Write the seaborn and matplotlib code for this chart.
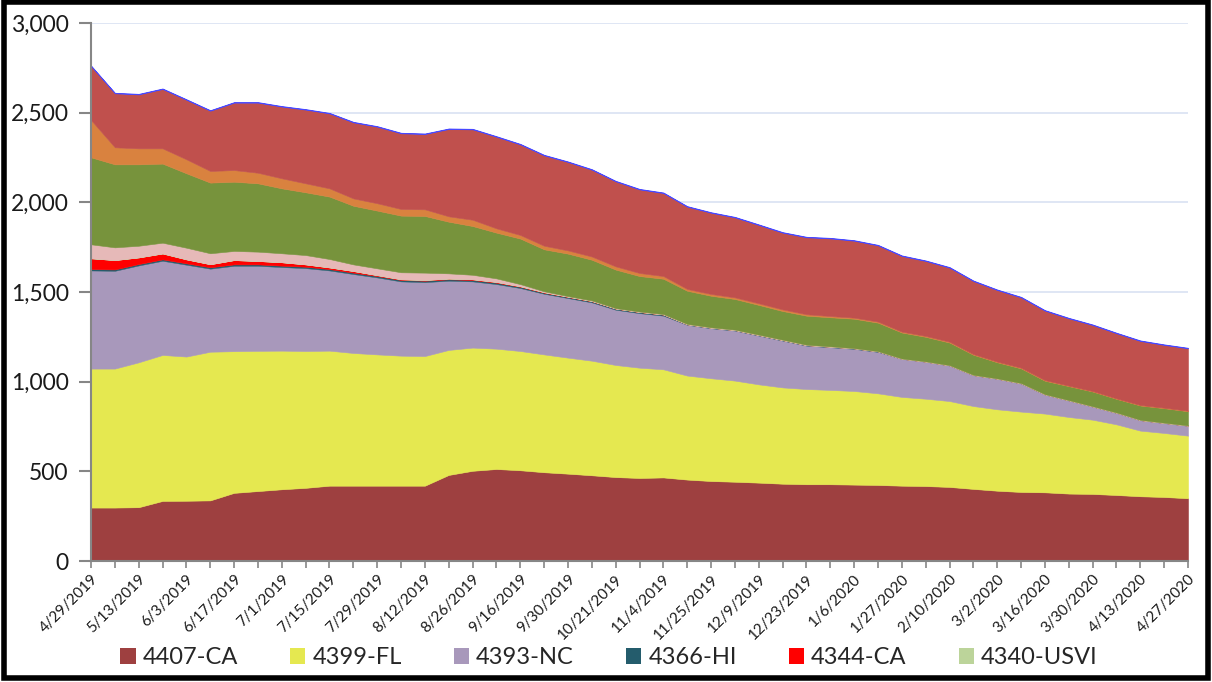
import numpy as np
import matplotlib
matplotlib.use("Agg")
import matplotlib.pyplot as plt
import seaborn as sns
from matplotlib.patches import Patch, Rectangle

dates = ["4/29/2019", "5/6/2019", "5/13/2019", "5/20/2019", "6/3/2019", "6/10/2019",
         "6/17/2019", "6/24/2019", "7/1/2019", "7/8/2019", "7/15/2019", "7/22/2019",
         "7/29/2019", "8/5/2019", "8/12/2019", "8/19/2019", "8/26/2019", "9/9/2019",
         "9/16/2019", "9/23/2019", "9/30/2019", "10/14/2019", "10/21/2019", "10/28/2019",
         "11/4/2019", "11/18/2019", "11/25/2019", "12/2/2019", "12/9/2019", "12/16/2019",
         "12/23/2019", "12/30/2019", "1/6/2020", "1/20/2020", "1/27/2020", "2/3/2020",
         "2/10/2020", "2/24/2020", "3/2/2020", "3/9/2020", "3/16/2020", "3/23/2020",
         "3/30/2020", "4/6/2020", "4/13/2020", "4/20/2020", "4/27/2020"]

s4407_ca = [298, 298, 300, 335, 336, 338, 380, 390, 400, 408, 420, 420, 420, 420, 420, 480,
            503, 513, 506, 495, 487, 478, 468, 463, 466, 454, 446, 442, 437, 431, 428, 428,
            426, 424, 420, 418, 413, 402, 392, 385, 383, 376, 374, 368, 361, 357, 350]
s4399_fl = [775, 775, 808, 814, 804, 829, 790, 782, 773, 763, 753, 740, 732, 725, 723, 697,
            687, 671, 665, 657, 647, 639, 625, 615, 603, 580, 573, 564, 548, 537, 531, 526,
            522, 511, 495, 487, 479, 462, 454, 448, 439, 427, 414, 394, 366, 357, 349]
s4393_nc = [547, 545, 540, 525, 512, 463, 476, 474, 466, 462, 447, 440, 429, 414, 412, 386,
            369, 360, 351, 338, 332, 325, 308, 304, 299, 283, 279, 279, 272, 261, 242, 238,
            235, 231, 212, 206, 198, 172, 170, 157, 106, 92, 73, 64, 58, 55, 55]
s4366_hi = [8, 8, 8, 8, 8, 8, 8, 8, 8, 8, 8, 8, 8, 8, 8, 8,
            8, 8, 7, 6, 6, 6, 6, 6, 6, 3, 3, 3, 3, 3, 3, 3,
            3, 3, 1, 1, 1, 1, 1, 1, 1, 1, 1, 1, 1, 1, 1]
s4344_ca = [60, 52, 37, 33, 22, 17, 24, 19, 19, 13, 9, 9, 5, 4, 4, 4,
            4, 4, 3, 3, 2, 2, 1, 1, 1, 0, 0, 0, 0, 0, 0, 0,
            0, 0, 0, 0, 0, 0, 0, 0, 0, 0, 0, 0, 0, 0, 0]
s4340_usvi = [0, 0, 0, 0, 0, 0, 0, 0, 0, 0, 0, 0, 0, 0, 0, 0,
              0, 0, 0, 0, 0, 0, 0, 0, 0, 0, 0, 0, 0, 0, 0, 0,
              0, 0, 0, 0, 0, 0, 0, 0, 0, 0, 0, 0, 0, 0, 0]
s_pink = [78, 71, 65, 60, 65, 61, 51, 52, 50, 52, 47, 37, 38, 39, 41, 29,
          25, 20, 12, 5, 3, 3, 2, 2, 2, 2, 2, 2, 2, 2, 2, 2,
          1, 1, 1, 1, 1, 1, 1, 1, 1, 1, 1, 1, 1, 1, 1]
s_green = [485, 463, 454, 441, 415, 394, 386, 381, 362, 350, 348, 327, 322, 316, 316, 288,
           272, 255, 254, 234, 237, 227, 215, 198, 197, 185, 176, 171, 166, 160, 162, 162,
           164, 159, 145, 137, 126, 112, 90, 82, 75, 78, 82, 76, 80, 81, 79]
s_orange = [208, 95, 89, 85, 78, 65, 65, 59, 56, 50, 46, 41, 41, 37, 37, 30,
            35, 24, 20, 20, 18, 18, 18, 17, 15, 10, 10, 9, 9, 9, 8, 7,
            6, 6, 5, 5, 5, 4, 4, 4, 4, 3, 3, 3, 3, 3, 3]
s_red = [301, 301, 301, 331, 332, 336, 376, 391, 400, 411, 418, 424, 427, 422, 420, 487,
         504, 511, 505, 504, 493, 484, 474, 466, 463, 459, 453, 446, 437, 428, 429, 433,
         429, 425, 422, 418, 413, 407, 399, 392, 387, 375, 368, 363, 357, 350, 348]
s_blue = [3, 3, 3, 3, 3, 3, 3, 3, 3, 3, 3, 3, 3, 3, 3, 3,
          3, 3, 3, 3, 3, 3, 3, 3, 3, 3, 3, 3, 3, 3, 3, 3,
          3, 3, 3, 3, 3, 3, 3, 3, 3, 3, 3, 3, 3, 3, 3]

names = ["4407-CA", "4399-FL", "4393-NC", "4366-HI", "4344-CA", "4340-USVI"]
layers = [s4407_ca, s4399_fl, s4393_nc, s4366_hi, s4344_ca, s4340_usvi,
          s_pink, s_green, s_orange, s_red, s_blue]
colors = ["#9E4040", "#E5E850", "#A898BB", "#245C6C", "#FF0000", "#BCD49A",
          "#E6B9B8", "#77933C", "#D9823F", "#C0504D", "#4848FF"]

sns.set_theme(style="white")
plt.rcParams['font.family'] = ['Lato', 'DejaVu Sans']

fig = plt.figure(figsize=(12.12, 6.82), dpi=100)
ax = fig.add_axes([91 / 1212, 1 - 561 / 682, (1188 - 91) / 1212, (561 - 23) / 682])

x = np.arange(len(dates))
polys = ax.stackplot(x, *layers, colors=colors, linewidth=0.4)
for p, c in zip(polys, colors):
    p.set_edgecolor(c)
polys[3].set_linewidth(0.3)
polys[-1].set_linewidth(0.5)

ax.set_xlim(0, len(dates) - 1)
ax.set_ylim(0, 3000)
ax.set_yticks(np.arange(0, 3001, 500))
ax.set_yticklabels([f"{v:,}" for v in range(0, 3001, 500)], fontsize=16.5, color="#1a1a1a")
ax.yaxis.grid(True, color="#D9E1F2", linewidth=1.2)
ax.set_axisbelow(True)

ax.set_xticks(x)
ax.set_xticklabels([d if i % 2 == 0 else "" for i, d in enumerate(dates)],
                   rotation=45, ha="right", rotation_mode="anchor", fontsize=11,
                   color="#1a1a1a")
ax.tick_params(axis="x", direction="out", length=5, width=1.2, color="#868686", pad=3,
               bottom=True)
ax.tick_params(axis="y", direction="out", length=9, width=1.5, color="#868686", pad=7,
               left=True)

for side in ["top", "right"]:
    ax.spines[side].set_visible(False)
for side in ["left", "bottom"]:
    ax.spines[side].set_color("#868686")
    ax.spines[side].set_linewidth(1.5)

handles = [Patch(facecolor=colors[i], edgecolor="none", label=names[i]) for i in range(6)]
fig.legend(handles=handles, loc="center", bbox_to_anchor=(0.5025, 1 - 658 / 682), ncol=6,
           frameon=False, fontsize=17, handlelength=0.65, handleheight=0.65,
           handletextpad=0.3, columnspacing=2.2)

fig.patches.append(Rectangle((0.003, 0.006), 0.994, 0.991, transform=fig.transFigure,
                             fill=False, linewidth=4, edgecolor="black"))

fig.savefig("out.png", dpi=100)
